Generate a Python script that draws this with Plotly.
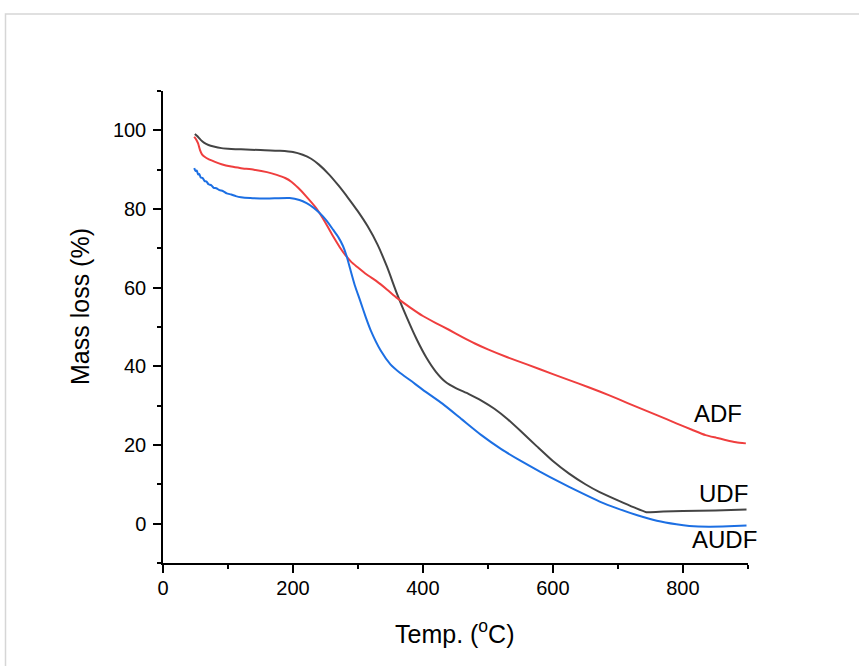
import plotly.graph_objects as go

# ---------------- data ----------------
udf_x = [49, 53, 58, 63, 70, 78, 90, 105, 120, 150, 180, 200, 215, 228, 240, 255, 270, 285, 300,
         315, 330, 345, 360, 375, 390, 405, 420, 435, 450, 470, 490, 510, 530, 550, 575, 600,
         625, 650, 672, 700, 725, 744, 770, 800, 850, 898]
udf_y = [99.1, 98.5, 97.6, 96.9, 96.3, 95.9, 95.5, 95.3, 95.2, 95.0, 94.8, 94.5, 93.8, 92.8,
         91.3, 88.9, 86.0, 82.8, 79.4, 75.6, 71.0, 65.2, 58.5, 52.5, 47.0, 42.3, 38.6, 36.0,
         34.5, 33.0, 31.3, 29.2, 26.6, 23.6, 19.7, 15.9, 12.7, 10.0, 8.0, 5.9, 4.1, 2.9, 3.05,
         3.2, 3.35, 3.55]

adf_x = [48, 51, 54, 57, 60, 64, 70, 80, 90, 105, 120, 140, 160, 175, 188, 198, 208, 220, 236,
         250, 262, 272, 282, 290, 298, 313, 329, 345, 360, 380, 400, 420, 440, 460, 480, 500,
         530, 560, 600, 640, 672, 700, 730, 760, 790, 815, 835, 852, 867, 882, 897]
adf_y = [98.4, 97.7, 96.7, 95.0, 93.9, 93.3, 92.7, 92.0, 91.4, 90.8, 90.4, 90.0, 89.4, 88.7,
         87.9, 86.9, 85.4, 83.3, 80.2, 76.5, 73.0, 70.3, 68.0, 66.5, 65.4, 63.4, 61.6, 59.5,
         57.4, 55.0, 52.8, 51.0, 49.3, 47.5, 45.8, 44.3, 42.3, 40.5, 38.0, 35.6, 33.6, 31.7,
         29.6, 27.6, 25.5, 23.8, 22.5, 21.8, 21.2, 20.7, 20.4]

audf_x = [48, 50, 52, 54, 56, 58, 61, 64, 67, 70, 74, 78, 82, 87, 92, 98, 105, 112, 120, 134,
          160, 195, 210, 221, 232, 241, 252, 262, 270, 277, 283, 288, 295, 303, 312, 320, 335,
          350, 365, 380, 400, 430, 460, 490, 520, 550, 580, 610, 640, 672, 700, 730, 760, 790,
          810, 840, 870, 898]
audf_y = [90.4, 89.7, 89.8, 88.8, 88.9, 88.0, 87.9, 87.1, 87.0, 86.3, 86.1, 85.4, 85.3, 84.8,
          84.6, 84.0, 83.7, 83.3, 83.0, 82.8, 82.7, 82.8, 82.3, 81.5, 80.3, 79.0, 77.0, 74.7,
          72.8, 70.6, 67.8, 64.8, 60.7, 56.9, 52.5, 49.0, 44.0, 40.5, 38.3, 36.5, 34.0, 30.5,
          26.5, 22.5, 19.0, 16.0, 13.2, 10.6, 8.1, 5.6, 3.8, 2.1, 0.7, -0.2, -0.6, -0.8, -0.7,
          -0.5]

series_names = ["UDF", "ADF", "AUDF"]
series_colors = ["#444444", "#ef3e3e", "#1c6fe3"]

x_ticks = [0, 200, 400, 600, 800]
y_ticks = [0, 20, 40, 60, 80, 100]

label_pos = {"ADF": (854, 27.9), "UDF": (863, 7.6), "AUDF": (864, -4.0)}

FONT = "Liberation Sans, Arial, sans-serif"

# ---------------- figure ----------------
fig = go.Figure()
for name, xs, ys, col in zip(series_names, [udf_x, adf_x, audf_x], [udf_y, adf_y, audf_y], series_colors):
    fig.add_trace(go.Scatter(x=xs, y=ys, mode="lines", name=name,
                             line=dict(color=col, width=2, shape="spline", smoothing=0.5),
                             showlegend=False))

for name, (lx, ly) in label_pos.items():
    fig.add_annotation(x=lx, y=ly, xref="x", yref="y", text=name, showarrow=False,
                       xanchor="center", yanchor="middle",
                       font=dict(family=FONT, size=24, color="black"))

W, H = 859, 666
L, R, T, B = 163, 111, 91, 103
pw, ph = W - L - R, H - T - B

def px(xp):
    return (xp - L) / pw

def py(yp):
    return (H - B - yp) / ph

fig.add_annotation(x=px(80), y=py(307), xref="paper", yref="paper", text="Mass loss (%)",
                   textangle=-90, showarrow=False, xanchor="center", yanchor="middle",
                   font=dict(family=FONT, size=25, color="black"))
fig.add_annotation(x=px(454), y=py(632), xref="paper", yref="paper",
                   text="Temp. (<sup>o</sup>C)", showarrow=False,
                   xanchor="center", yanchor="middle",
                   font=dict(family=FONT, size=25, color="black"))

# light frame around the figure (top and left visible)
fig.add_shape(type="rect", xref="paper", yref="paper",
              x0=px(5.5), x1=px(875), y0=py(680), y1=py(14),
              line=dict(color="#d6d6d6", width=1.5), fillcolor="rgba(0,0,0,0)", layer="below")

axis_common = dict(showline=True, linecolor="black", linewidth=1.5, ticks="outside",
                   ticklen=8, tickwidth=1.5, tickcolor="black", showgrid=False, zeroline=False,
                   tickfont=dict(family=FONT, size=20, color="black"))

fig.update_xaxes(range=[0, 900.3], tickmode="array", tickvals=x_ticks,
                 ticktext=[str(v) for v in x_ticks], ticklabelstandoff=-2,
                 minor=dict(dtick=100, tick0=0, ticks="outside", ticklen=4, tickwidth=1.5,
                            tickcolor="black", showgrid=False),
                 **axis_common)
fig.update_yaxes(range=[-10.03, 110.03], tickmode="array", tickvals=y_ticks,
                 ticktext=[str(v) for v in y_ticks], ticklabelstandoff=3,
                 minor=dict(dtick=10, tick0=0, ticks="outside", ticklen=4, tickwidth=1.5,
                            tickcolor="black", showgrid=False),
                 **axis_common)

fig.update_layout(width=W, height=H, margin=dict(l=L, r=R, t=T, b=B),
                  paper_bgcolor="white", plot_bgcolor="white",
                  font=dict(family=FONT, color="black"))

fig.write_html("out.html", config={"displayModeBar": False},
               post_script="document.body.style.margin='0px';document.body.style.overflow='hidden';")
